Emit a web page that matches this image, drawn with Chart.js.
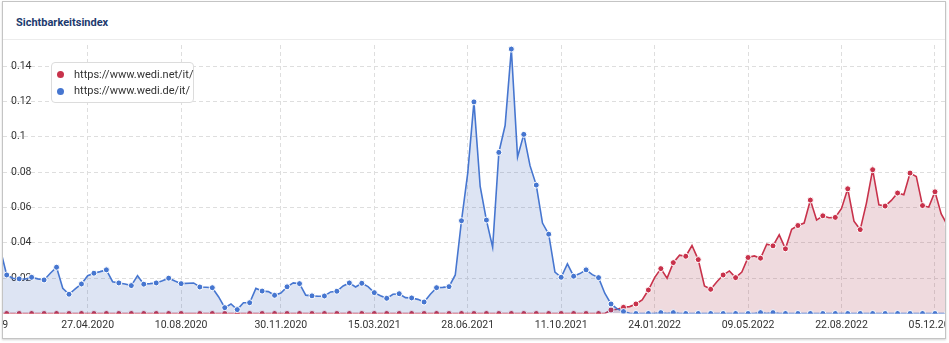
<!DOCTYPE html>
<html>
<head>
<meta charset="utf-8">
<script src="https://cdn.jsdelivr.net/npm/chart.js@4.4.0/dist/chart.umd.min.js"></script>
<style>
  html, body { margin: 0; padding: 0; background: #fff; }
  body { width: 949px; height: 343px; position: relative; overflow: hidden; font-family: Roboto, "Noto Sans", sans-serif; }
  #card { position: absolute; left: 2px; top: 1px; width: 944px; height: 338px; box-sizing: border-box;
          border: 1px solid #c4c4c4; background: #fff; overflow: hidden;
          box-shadow: 0 1px 2px rgba(0, 0, 0, 0.18); }
  #title { position: absolute; left: 13px; top: 14px; height: 14px; line-height: 14px;
           font-size: 11px; font-weight: 700; color: #1d3a6e; white-space: nowrap; }
  #sep { position: absolute; left: 0; right: 0; top: 37px; height: 1px; background: #ececec; }
  #wrap { position: absolute; left: 0; top: 43px; width: 942px; height: 293px; }
  #legend { position: absolute; left: 48px; top: 60px; width: 143px; height: 41px; box-sizing: border-box;
            border: 1px solid #dcdcdc; border-radius: 4px; background: #fff; }
  .item { position: absolute; left: 0; height: 14px; line-height: 14px; font-size: 11px; color: #333; white-space: nowrap; }
  .dot { position: absolute; left: 5px; top: 3.5px; width: 7px; height: 7px; border-radius: 50%; }
  .item span.txt { position: absolute; left: 22px; top: 0; }
</style>
</head>
<body>
<div id="card">
  <div id="title">Sichtbarkeitsindex</div>
  <div id="sep"></div>
  <div id="wrap"><canvas id="chart" width="942" height="293"></canvas></div>
  <div id="legend"></div>
</div>
<script>
/* Weekly values, first entry is week -1 (week 0 = 27.01.2020); null = week without data */
const FIRST_WEEK = -1;

const seriesNames = ["https://www.wedi.net/it/", "https://www.wedi.de/it/"];
const seriesColors = ["#c8324b", "#4676d0"];

const wediNet = [
  0, 0, 0, 0, 0, 0, 0, 0, 0, 0,
  0, 0, 0, 0, 0, 0, 0, 0, 0, 0,
  0, 0, 0, 0, 0, 0, 0, 0, 0, 0,
  null, 0, 0, 0, 0, 0, 0, 0, 0, 0,
  0, 0, 0, 0, 0, 0, 0, 0, 0, 0,
  0, 0, 0, 0, 0, 0, 0, 0, 0, 0,
  0, 0, 0, 0, 0, 0, 0, 0, 0, 0,
  0, 0, 0, 0, 0, 0, 0, 0, 0, 0,
  0, 0, 0, 0, 0, 0, 0, 0, 0, 0,
  0, 0, 0, 0, 0, 0, 0, 0, 0.002, 0.0024,
  0.0035, 0.0039, 0.0054, 0.0077, 0.0133, 0.0203, 0.0254, 0.020, 0.0288, 0.033,
  0.0324, 0.0385, 0.0305, 0.0156, 0.0137, 0.018, 0.0218, 0.0241, 0.0203, 0.0235,
  0.0317, 0.0326, 0.0313, 0.0392, 0.0383, 0.0445, 0.0366, 0.0477, 0.0498, 0.0512,
  0.0642, 0.0529, 0.0553, 0.0542, 0.0544, 0.0595, 0.0706, 0.0523, 0.0475, 0.0625,
  0.0814, 0.0615, 0.0608, 0.064, 0.0682, 0.0672, 0.0795, 0.0776, 0.0611, 0.0602,
  0.0689, 0.0564, 0.050
];

const wediDe = [
  0.036, 0.0218, 0.020, 0.0196, 0.0195, 0.0205, 0.0196, 0.019, 0.0228, 0.0262,
  0.0143, 0.0109, 0.0139, 0.0167, 0.0214, 0.0228, 0.0237, 0.0247, 0.018, 0.0173,
  0.0167, 0.0158, 0.0214, 0.0166, 0.0169, 0.0173, 0.0186, 0.020, 0.0184, 0.0169,
  null, 0.0173, 0.015, 0.0149, 0.0146, 0.0095, 0.0033, 0.0054, 0.0022, 0.0061,
  0.0061, 0.0142, 0.0127, 0.0124, 0.0103, 0.0116, 0.0151, 0.0173, 0.0169, 0.0104,
  0.010, 0.0098, 0.0099, 0.0122, 0.0126, 0.0156, 0.0173, 0.015, 0.0171, 0.0152,
  0.0118, 0.0101, 0.0086, 0.0109, 0.0112, 0.009, 0.0088, 0.008, 0.0065, 0.0109,
  0.0146, 0.0148, 0.0152, 0.0218, 0.0525, 0.0795, 0.1198, 0.0719, 0.0529, 0.0375,
  0.0912, 0.1064, 0.1497, 0.0886, 0.1014, 0.0837, 0.0727, 0.0512, 0.0449, 0.0234,
  0.0205, 0.0281, 0.0211, 0.0226, 0.0247, 0.022, 0.0203, 0.0115, 0.0054, 0.0026,
  0.0011, 0.0001, 0, 0, 0, 0, 0.0005, 0, 0.0005, 0,
  0, 0, 0, 0, 0, 0, 0, 0, 0, 0,
  0, 0, 0.0005, 0, 0.0005, 0, 0, 0, 0, 0,
  0, 0, 0, 0, 0, 0, 0, 0, 0, 0,
  0, 0, 0, 0, 0, 0, 0, 0, 0, 0,
  0, 0, 0
];

/* x tick positions (week numbers) and their labels */
const tickWeeks = [-4, 13, 28, 44, 59, 74, 89, 104, 119, 134, 149];
const tickLabels = ["30.12.2019", "27.04.2020", "10.08.2020", "30.11.2020", "15.03.2021", "28.06.2021",
                    "11.10.2021", "24.01.2022", "09.05.2022", "22.08.2022", "05.12.2022"];

const yTicks = [0.02, 0.04, 0.06, 0.08, 0.1, 0.12, 0.14];
const yTickLabels = ["0.02", "0.04", "0.06", "0.08", "0.1", "0.12", "0.14"];

/* Markers sit on every second recorded point */
const markerFlags = (values) => {
    let k = -1;
    return values.map(v => v === null ? false : (++k % 2 === 1));
};

const toPoints = (values) => values.map((v, i) => ({ x: i + FIRST_WEEK, y: v }));

const makeDataset = (idx, values, fill, order) => {
    const flags = markerFlags(values);
    return {
        label: seriesNames[idx],
        data: toPoints(values),
        borderColor: seriesColors[idx],
        backgroundColor: fill,
        borderWidth: 1.6,
        fill: "origin",
        tension: 0,
        spanGaps: true,
        order: order,
        pointRadius: ctx => flags[ctx.dataIndex] ? 3 : 0,
        pointHoverRadius: ctx => flags[ctx.dataIndex] ? 3 : 0,
        pointBackgroundColor: seriesColors[idx],
        pointBorderColor: "#ffffff",
        pointBorderWidth: 1
    };
};

const font = { family: "Roboto, 'Noto Sans', sans-serif", size: 10.5 };

new Chart(document.getElementById("chart"), {
    type: "line",
    data: {
        datasets: [
            makeDataset(0, wediNet, "rgba(175, 70, 90, 0.2)", 1),
            makeDataset(1, wediDe, "rgba(55, 95, 185, 0.17)", 0)
        ]
    },
    options: {
        responsive: false,
        animation: false,
        devicePixelRatio: 1,
        layout: { padding: 0, autoPadding: false },
        plugins: { legend: { display: false }, tooltip: { enabled: false } },
        scales: {
            x: {
                type: "linear",
                min: -0.594,
                max: 150.61,
                grid: { color: "#dedede", lineWidth: 1, drawTicks: false },
                border: { display: false, dash: [4, 3] },
                ticks: {
                    autoSkip: false,
                    maxRotation: 0,
                    padding: 6,
                    color: "#333",
                    font: font,
                    callback: (v) => tickLabels[tickWeeks.indexOf(v)]
                },
                afterBuildTicks: (axis) => { axis.ticks = tickWeeks.map(w => ({ value: w })); },
                afterFit: (axis) => { axis.height = 24.5; axis.paddingLeft = 0; axis.paddingRight = 0; }
            },
            y: {
                min: 0,
                max: 0.152,
                grid: { color: "#dedede", lineWidth: 1, drawTicks: false },
                border: { display: false, dash: [4, 3] },
                ticks: {
                    mirror: true,
                    padding: 8,
                    color: "#333",
                    font: font,
                    callback: (v) => yTickLabels[yTicks.indexOf(v)]
                },
                afterBuildTicks: (axis) => { axis.ticks = yTicks.map(v => ({ value: v })); },
                afterFit: (axis) => { axis.width = 0; axis.paddingTop = 0; axis.paddingBottom = 0; }
            }
        }
    }
});

/* HTML legend floating over the plot */
const legend = document.getElementById("legend");
const rowTops = [4.7, 21.3];
seriesNames.forEach((name, i) => {
    const item = document.createElement("div");
    item.className = "item";
    item.style.top = rowTops[i] + "px";
    item.innerHTML = `<div class="dot" style="background:${seriesColors[i]}"></div><span class="txt"></span>`;
    item.querySelector(".txt").textContent = name;
    legend.appendChild(item);
});
</script>
</body>
</html>
